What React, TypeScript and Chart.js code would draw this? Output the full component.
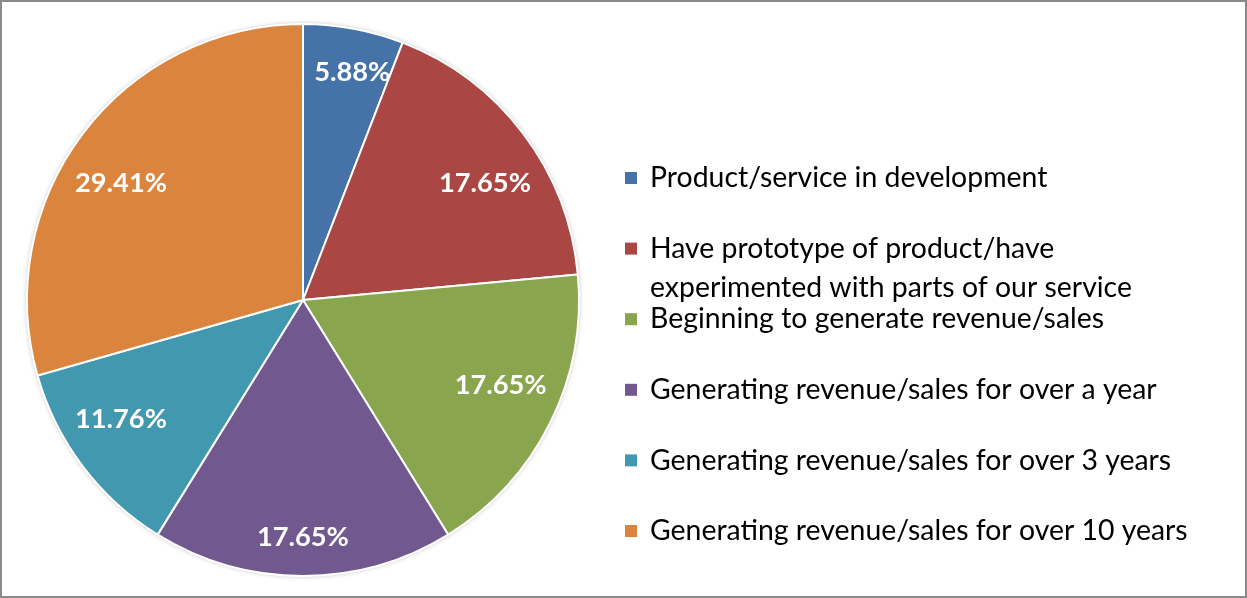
import React, { useEffect, useRef } from "react";
import { Chart, registerables } from "chart.js";

Chart.register(...registerables);

const categories: (string | string[])[] = [
  "Product/service in development",
  ["Have prototype of product/have", "experimented with parts of our service"],
  "Beginning to generate revenue/sales",
  "Generating revenue/sales for over a year",
  "Generating revenue/sales for over 3 years",
  "Generating revenue/sales for over 10 years",
];
const shares = [5.88, 17.65, 17.65, 17.65, 11.76, 29.41];
const colors = ["#4572A7", "#AA4643", "#89A54E", "#71588F", "#4198AF", "#DB843D"];

const W = 1247;
const H = 598;

function fitSize(ctx: CanvasRenderingContext2D, text: string, weight: string, family: string, target: number) {
  ctx.font = `${weight} 100px ${family}`;
  const w = ctx.measureText(text).width;
  return (100 * target) / w;
}

const shadowPlugin = {
  id: "pieShadow",
  beforeDatasetsDraw(chart: any) {
    const arc = chart.getDatasetMeta(0).data[0];
    if (!arc) return;
    const { x, y, outerRadius } = arc.getProps(["x", "y", "outerRadius"], true);
    const ctx = chart.ctx;
    ctx.save();
    ctx.shadowColor = "rgba(0,0,0,0.3)";
    ctx.shadowBlur = 5;
    ctx.beginPath();
    ctx.arc(x, y, outerRadius, 0, Math.PI * 2);
    ctx.fillStyle = "#ffffff";
    ctx.fill();
    ctx.restore();
  },
};

// Excel-like "best fit" placement: labels near the vertical sit closer to the rim,
// diagonal labels lean slightly toward the horizontal.
const labelPlugin = {
  id: "sliceLabels",
  afterDatasetsDraw(chart: any) {
    const ctx = chart.ctx;
    const meta = chart.getDatasetMeta(0);
    const family = "Lato, 'Liberation Sans', sans-serif";
    const size = fitSize(ctx, "29.41%", "bold", family, 92);
    ctx.save();
    ctx.font = `bold ${size}px ${family}`;
    ctx.fillStyle = "#ffffff";
    ctx.textAlign = "center";
    ctx.textBaseline = "middle";
    meta.data.forEach((el: any, i: number) => {
      const { x, y, startAngle, endAngle, outerRadius } = el.getProps(
        ["x", "y", "startAngle", "endAngle", "outerRadius"],
        true
      );
      const mid = (startAngle + endAngle) / 2;
      const s = Math.abs(Math.sin(mid));
      const ratio = 0.775 + 0.08 * Math.pow(s, 4);
      const ang = mid - (4.3 * Math.PI / 180) * Math.sin(2 * mid);
      const r = outerRadius * ratio;
      const txt = shares[i].toFixed(2) + "%";
      ctx.fillText(txt, x + Math.cos(ang) * r, y + Math.sin(ang) * r + 1);
    });
    ctx.restore();
  },
};

const legendPlugin = {
  id: "sideLegend",
  afterDraw(chart: any) {
    const ctx = chart.ctx;
    const family = "Lato, 'Liberation Sans', sans-serif";
    const size = fitSize(ctx, "Generating revenue/sales for over 10 years", "normal", family, 538);
    ctx.save();
    ctx.font = `normal ${size}px ${family}`;
    ctx.textBaseline = "middle";
    ctx.textAlign = "left";
    const x0 = 625;
    const y0 = 178;
    const step = 70.6;
    const lineGap = 39;
    categories.forEach((label, i) => {
      const cy = y0 + i * step;
      ctx.fillStyle = colors[i];
      ctx.fillRect(x0, cy - 6, 12, 12);
      ctx.fillStyle = "#000000";
      const lines = Array.isArray(label) ? label : [label];
      lines.forEach((ln, j) => {
        ctx.fillText(ln, x0 + 25, cy + j * lineGap);
      });
    });
    ctx.restore();
  },
};

export default function App() {
  const ref = useRef<HTMLCanvasElement | null>(null);

  useEffect(() => {
    document.body.style.margin = "0";
    const canvas = ref.current;
    if (!canvas) return;
    const chart = new Chart(canvas, {
      type: "pie",
      data: {
        labels: categories as any,
        datasets: [
          {
            data: shares,
            backgroundColor: colors,
            borderColor: "#ffffff",
            borderWidth: 2,
          },
        ],
      },
      options: {
        responsive: false,
        animation: false,
        devicePixelRatio: 1,
        layout: { padding: { left: 26, top: 23, right: 667, bottom: 21 } },
        plugins: {
          legend: { display: false },
          tooltip: { enabled: false },
        },
      },
      plugins: [shadowPlugin, labelPlugin, legendPlugin],
    });
    return () => chart.destroy();
  }, []);

  return (
    <div style={{ position: "absolute", left: 0, top: 0, width: W, height: H, background: "#ffffff" }}>
      <canvas ref={ref} width={W} height={H} style={{ position: "absolute", left: 0, top: 0 }} />
      <div
        style={{
          position: "absolute",
          left: 0,
          top: 0,
          width: W,
          height: H,
          boxSizing: "border-box",
          border: "2px solid #8a8a8a",
          pointerEvents: "none",
        }}
      />
    </div>
  );
}
